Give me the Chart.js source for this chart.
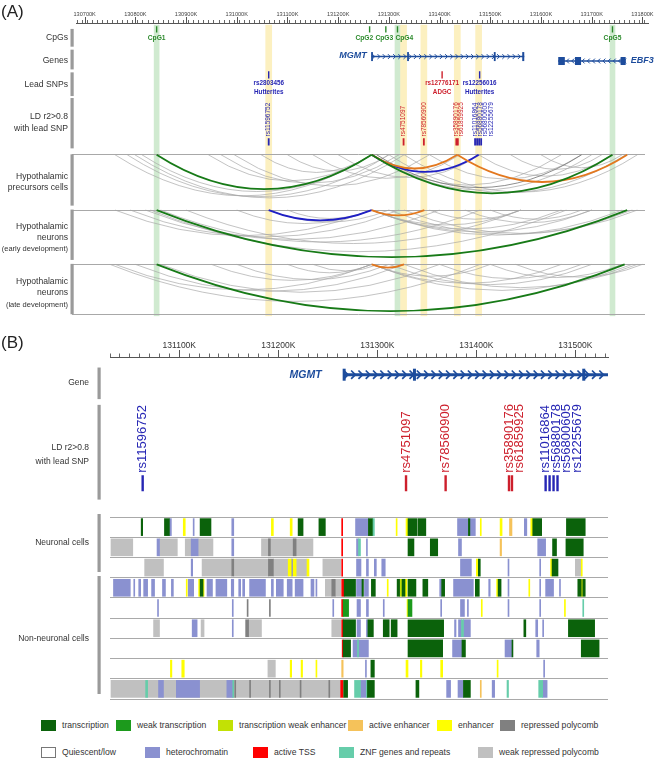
<!DOCTYPE html>
<html>
<head>
<meta charset="utf-8">
<script src="https://cdn.jsdelivr.net/npm/chart.js@4.4.0/dist/chart.umd.min.js"></script>
<style>
body { margin: 0; background: #fff; font-family: "Liberation Sans", Arial, sans-serif; }
#wrap { position: relative; width: 660px; height: 759px; overflow: hidden; }
canvas { position: absolute; left: 0; }
.lg { position: absolute; font-size: 8.6px; color: #333; white-space: nowrap; line-height: 11px; }
.lg i { display: inline-block; width: 15px; height: 11px; vertical-align: middle; margin-right: 6px; box-sizing: border-box; }
.lg span { vertical-align: middle; }
</style>
</head>
<body>
<div id="wrap">
  <canvas id="chartA" width="660" height="322" style="top:0px"></canvas>
  <canvas id="chartB1" width="660" height="180" style="top:330px"></canvas>
  <canvas id="chartB2" width="660" height="195" style="top:510px"></canvas>
  <div id="legend"></div>
</div>
<script>
Chart.defaults.font.family = '"Liberation Sans", Arial, Helvetica, sans-serif';
Chart.defaults.color = '#333';

// ---- positions are in kb on chr10 ----
const cpgNames = ['CpG1', 'CpG2', 'CpG3', 'CpG4', 'CpG5'];
const cpgPos = [130842, 131262, 131294, 131317, 131741];

const leadSnps = ['rs2803456', 'rs12776171', 'rs12256016'];
const leadPos = [131063, 131405, 131479];
const leadStudy = ['Hutterites', 'ADGC', 'Hutterites'];

const ldSnps = ['rs11596752', 'rs4751097', 'rs78560900', 'rs35890176', 'rs61859925',
                'rs11016864', 'rs56880178', 'rs56800605', 'rs12255679'];
const ldPos = [131063, 131329, 131369, 131433, 131436, 131470, 131474, 131478, 131482];
const ldStudy = ['Hutterites', 'ADGC', 'ADGC', 'ADGC', 'ADGC',
                 'Hutterites', 'Hutterites', 'Hutterites', 'Hutterites'];

const greenBands = [130842, 131317, 131741];
const yellowBands = [131063, 131329, 131369, 131435, 131477];

const mgmtSpan = [131266, 131567];
const mgmtExons = [[131265, 131268], [131336, 131339], [131507, 131510], [131563, 131567]];
const ebf3Span = [131634, 131767];
const ebf3Exons = [[131634, 131647], [131667, 131679], [131757, 131767]];

// chromatin interactions: [from, to, colour key]
const arcsPrecursors = [
  [130760, 131266, 'g'], [130784, 131300, 'g'], [130799, 131330, 'g'], [130813, 131266, 'g'],
  [130944, 131266, 'g'], [130969, 131320, 'g'], [130995, 131380, 'g'], [131048, 131266, 'g'],
  [131100, 131300, 'g'], [131150, 131440, 'g'], [131200, 131480, 'g'], [131266, 131640, 'g'],
  [131266, 131700, 'g'], [131300, 131767, 'g'], [131330, 131790, 'g'], [131380, 131680, 'g'],
  [131477, 131741, 'g'], [131540, 131720, 'g'], [131600, 131760, 'g'], [131276, 131680, 'd'],
  [130842, 131266, 'G'], [131266, 131741, 'G'], [131266, 131477, 'B'],
  [131266, 131435, 'O'], [131435, 131770, 'O']
];
const arcsEarly = [
  [130760, 131266, 'g'], [130790, 131320, 'g'], [130820, 131400, 'g'], [130850, 131480, 'g'],
  [130900, 131560, 'g'], [130830, 131650, 'g'], [131000, 131266, 'g'], [131063, 131300, 'g'],
  [131100, 131266, 'g'], [131266, 131560, 'g'], [131266, 131640, 'g'], [131266, 131700, 'g'],
  [131266, 131760, 'g'], [131300, 131780, 'g'], [131330, 131790, 'g'], [131380, 131560, 'g'],
  [131450, 131700, 'g'], [131500, 131680, 'g'],
  [130842, 131770, 'G'], [131063, 131266, 'B'], [131266, 131370, 'O']
];
const arcsLate = [
  [130750, 131480, 'g'], [130760, 131266, 'g'], [130800, 131330, 'g'], [130850, 131400, 'g'],
  [130950, 131266, 'g'], [131000, 131300, 'g'], [131100, 131266, 'g'], [131150, 131280, 'g'],
  [131266, 131500, 'g'], [131266, 131640, 'g'], [131266, 131780, 'g'], [131300, 131700, 'g'],
  [131330, 131790, 'g'], [131400, 131680, 'g'], [131500, 131760, 'g'], [131550, 131800, 'g'],
  [130842, 131765, 'G'], [131266, 131330, 'O']
];

// chromatin states: [start, end, state]
const neuronal1 = [[131061.5, 131063, 'T'], [131085, 131090, 'T'], [131090, 131092, 'H'], [131104, 131106, 'E'],
  [131114, 131115, 'H'], [131121, 131132, 'T'], [131153, 131155, 'H'], [131193, 131195, 'E'], [131212, 131214, 'E'],
  [131220, 131225, 'T'], [131241, 131247.5, 'T'], [131264, 131265, 'S'], [131278, 131291, 'H'], [131291, 131295, 'T'],
  [131295, 131297, 'Z'], [131319, 131320, 'E'], [131329, 131331, 'E'], [131331, 131340, 'T'], [131341, 131349, 'T'],
  [131381, 131392, 'H'], [131392, 131393.5, 'T'], [131393.5, 131399, 'H'], [131404, 131405, 'E'], [131424, 131426, 'E'],
  [131433.5, 131436, 'A'], [131448.5, 131451, 'H'], [131455, 131457, 'E'], [131457, 131466, 'T'], [131491, 131510, 'T']];
const neuronal2 = [[131031, 131053, 'L'], [131077.5, 131080, 'H'], [131080, 131098, 'L'], [131106, 131112, 'L'],
  [131112, 131119, 'H'], [131119, 131134, 'L'], [131153, 131155, 'H'], [131183, 131235, 'L'], [131190, 131192, 'P'],
  [131215, 131218, 'P'], [131264, 131265, 'S'], [131279, 131281, 'H'], [131281, 131283, 'Z'], [131289, 131290, 'H'],
  [131331, 131337, 'T'], [131353.5, 131361, 'T'], [131382, 131385, 'H'], [131424, 131425.5, 'A'], [131462, 131470, 'H'],
  [131477, 131481, 'T'], [131490.5, 131508, 'T']];
const neuronal3 = [[131065, 131084, 'L'], [131112, 131113.5, 'H'], [131123, 131153, 'L'], [131153, 131155, 'P'],
  [131155, 131190, 'L'], [131190, 131195, 'P'], [131195, 131210, 'L'], [131210, 131213, 'E'], [131213, 131214.5, 'H'],
  [131215, 131218, 'E'], [131218, 131229, 'L'], [131229, 131231, 'E'], [131245, 131263, 'L'], [131264, 131265, 'S'],
  [131279, 131283.5, 'H'], [131289, 131291, 'H'], [131297, 131299, 'H'], [131304.5, 131308, 'H'], [131384, 131395, 'H'],
  [131400, 131402, 'E'], [131402, 131404, 'T'], [131432, 131433, 'H'], [131464, 131465, 'H'], [131475, 131476.5, 'E'],
  [131476.5, 131482.5, 'T'], [131500, 131506, 'L'], [131506, 131507, 'E']];
const nonNeuronal1 = [[131033.5, 131050.5, 'H'], [131054, 131055, 'H'], [131059, 131061, 'H'], [131064, 131068, 'H'],
  [131072, 131075, 'H'], [131083, 131086, 'H'], [131092, 131094, 'H'], [131107, 131108, 'E'], [131109, 131114.5, 'H'],
  [131119.5, 131121, 'E'], [131121, 131124, 'T'], [131124, 131125, 'E'], [131128, 131133.5, 'H'], [131137, 131148, 'H'],
  [131152.5, 131155, 'H'], [131160, 131162, 'H'], [131164, 131166, 'H'], [131171, 131187, 'H'], [131193, 131195, 'H'],
  [131198, 131205, 'H'], [131209, 131214, 'H'], [131217, 131225, 'H'], [131233, 131236, 'H'], [131238, 131239, 'H'],
  [131247.5, 131254, 'L'], [131254, 131257.5, 'P'], [131257.5, 131263, 'L'], [131264, 131266.5, 'S'],
  [131266.5, 131278, 'T'], [131279, 131284.5, 'H'], [131284.5, 131286, 'T'], [131287, 131291, 'H'], [131294, 131298, 'T'],
  [131310, 131311, 'E'], [131320, 131322.5, 'T'], [131322.5, 131325, 'G'], [131325, 131328, 'T'], [131328, 131330, 'E'],
  [131331, 131339, 'T'], [131346, 131351, 'T'], [131363, 131365, 'H'], [131365, 131368, 'T'], [131377, 131397, 'H'],
  [131399, 131403, 'T'], [131412.5, 131414, 'H'], [131420.5, 131422, 'E'], [131422, 131425, 'T'], [131432, 131433, 'H'],
  [131453, 131454, 'E'], [131464, 131465, 'H'], [131470, 131478, 'H'], [131484, 131485, 'H'], [131502.5, 131506, 'T'],
  [131506, 131507.5, 'E'], [131507.5, 131510, 'T']];
const nonNeuronal2 = [[131078, 131079, 'H'], [131153.5, 131154.5, 'H'], [131168.5, 131169.5, 'P'], [131191, 131192, 'P'],
  [131255, 131256, 'H'], [131264, 131265.5, 'S'], [131265.5, 131271, 'W'], [131279.5, 131283, 'H'], [131289, 131291, 'H'],
  [131306, 131307, 'H'], [131330, 131331, 'E'], [131331, 131335, 'W'], [131364, 131365, 'H'], [131384, 131388, 'H'],
  [131391, 131392, 'H'], [131405, 131406, 'E'], [131432, 131433, 'H'], [131464, 131465, 'H'], [131489, 131490, 'E'],
  [131507.5, 131508.5, 'Z']];
const nonNeuronal3 = [[131074, 131080, 'L'], [131113, 131118, 'H'], [131122, 131125, 'L'], [131153.5, 131154.5, 'H'],
  [131167, 131170, 'P'], [131170, 131183, 'L'], [131254, 131263, 'L'], [131264, 131265.5, 'S'], [131265.5, 131278, 'T'],
  [131279.5, 131283, 'H'], [131289, 131290.5, 'H'], [131290.5, 131296, 'T'], [131306, 131312, 'T'], [131314, 131320, 'T'],
  [131331, 131367, 'T'], [131378, 131379.5, 'H'], [131382, 131385, 'H'], [131385, 131387, 'Z'], [131387, 131394, 'H'],
  [131448, 131450, 'T'], [131460, 131462, 'H'], [131467, 131468, 'H'], [131493, 131519.5, 'T']];
const nonNeuronal4 = [[131264.5, 131265.5, 'S'], [131265.5, 131273, 'T'], [131275.5, 131280, 'H'], [131280, 131281, 'Z'],
  [131281, 131291, 'H'], [131331, 131366, 'T'], [131376, 131385.5, 'H'], [131385.5, 131389, 'T'], [131429, 131436, 'H'],
  [131436, 131437, 'T'], [131461, 131463.5, 'H'], [131506, 131524, 'T']];
const nonNeuronal5 = [[131091, 131092.5, 'E'], [131102.5, 131105, 'E'], [131189.5, 131197, 'L'], [131212, 131213.5, 'E'],
  [131223, 131224.5, 'E'], [131238, 131239, 'E'], [131264, 131265.5, 'A'], [131288, 131289, 'H'], [131293.5, 131297, 'T'],
  [131329, 131331, 'E'], [131343.5, 131345, 'E'], [131364, 131366, 'E'], [131421, 131422, 'E'], [131468, 131469, 'H']];
const nonNeuronal6 = [[131031, 131263, 'L'], [131066, 131068, 'Z'], [131079, 131084, 'H'], [131097, 131120.5, 'H'],
  [131148, 131154, 'H'], [131154, 131155, 'Z'], [131156, 131157, 'P'], [131171, 131172, 'P'], [131191, 131192, 'P'],
  [131201, 131202, 'P'], [131222, 131223, 'P'], [131251, 131252, 'P'], [131263, 131265.5, 'S'], [131266, 131270, 'T'],
  [131277, 131283, 'Z'], [131283, 131289, 'H'], [131289, 131290, 'Z'], [131290, 131297, 'T'], [131339, 131342, 'T'],
  [131370, 131374, 'H'], [131381.5, 131387, 'H'], [131387, 131394, 'T'], [131404, 131405, 'A'], [131416, 131418.5, 'H'],
  [131431, 131432.5, 'Z'], [131463, 131467, 'Z'], [131467, 131471.5, 'H']];

const chromRows = [neuronal1, neuronal2, neuronal3, nonNeuronal1, nonNeuronal2,
                   nonNeuronal3, nonNeuronal4, nonNeuronal5, nonNeuronal6];
const rowNames = ['n1', 'n2', 'n3', 'o1', 'o2', 'o3', 'o4', 'o5', 'o6'];

const stateCodes = ['T', 'W', 'G', 'A', 'E', 'P', 'Q', 'H', 'S', 'Z', 'L'];
const stateNames = ['transcription', 'weak transcription', 'transcription weak enhancer', 'active enhancer',
  'enhancer', 'repressed polycomb', 'Quiescent/low', 'heterochromatin', 'active TSS',
  'ZNF genes and repeats', 'weak repressed polycomb'];
const stateColors = ['#0b620b', '#1c9a1c', '#c2e105', '#f5c25a', '#ffff00', '#808080',
  '#ffffff', '#8a91d0', '#ff0000', '#66cdaa', '#c0c0c0'];

// ---- drawing helpers ----
const FAM = '"Liberation Sans", Arial, sans-serif';
const studyColor = { Hutterites: '#2626b4', ADGC: '#cd1f2c' };
const arcColor = { g: 'rgba(165,165,165,0.75)', d: 'rgba(115,115,115,0.9)', G: '#177a17', O: '#e3781f', B: '#1f1fc4' };
const geneColor = '#1d4c9c';

function text(ctx, s, x, y, font, color, align) {
  ctx.font = font + ' ' + FAM;
  ctx.fillStyle = color;
  ctx.textAlign = align || 'left';
  ctx.textBaseline = 'middle';
  ctx.fillText(s, x, y);
}
function vtext(ctx, s, x, yBottom, font, color) {
  ctx.save();
  ctx.translate(x, yBottom);
  ctx.rotate(-Math.PI / 2);
  text(ctx, s, 0, 0, font, color, 'left');
  ctx.restore();
}
function greedy(xs, gap) {
  const out = [];
  xs.forEach((v, i) => out.push(i && out[i - 1] + gap > v ? out[i - 1] + gap : v));
  return out;
}
function centred(xs, gap) {
  const out = [];
  let i = 0;
  while (i < xs.length) {
    let j = i;
    while (j + 1 < xs.length && xs[j + 1] - xs[j] < gap) j++;
    const n = j - i + 1;
    const mid = xs.slice(i, j + 1).reduce((a, b) => a + b, 0) / n;
    for (let k = 0; k < n; k++) out.push(mid + (k - (n - 1) / 2) * gap);
    i = j + 1;
  }
  return out;
}
function grayBar(ctx, x, y0, y1) {
  ctx.fillStyle = '#9a9a9a';
  ctx.fillRect(x, y0, 3.2, y1 - y0);
}
function ticksEvery(a, b, step) {
  const t = [];
  for (let v = a; v <= b; v += step) t.push({ value: v });
  return t;
}
function majorTicks(ctx, x, yAxis, len, from, to) {
  ctx.strokeStyle = '#555';
  ctx.lineWidth = 1;
  for (let v = from; v <= to; v += 100) {
    const px = Math.round(x.getPixelForValue(v)) + 0.5;
    ctx.beginPath(); ctx.moveTo(px, yAxis); ctx.lineTo(px, yAxis - len); ctx.stroke();
  }
}
function drawGene(ctx, x, area, yPix, span, exons, dir, o) {
  const a = Math.max(x.getPixelForValue(span[0]), area.left);
  const b = Math.min(x.getPixelForValue(span[1]), area.right);
  ctx.strokeStyle = geneColor;
  ctx.fillStyle = geneColor;
  ctx.lineWidth = o.lw;
  ctx.beginPath(); ctx.moveTo(a, yPix); ctx.lineTo(b, yPix); ctx.stroke();
  ctx.lineWidth = o.clw;
  for (let px = a + o.step * 0.6; px < b - 1; px += o.step) {
    ctx.beginPath();
    ctx.moveTo(px - dir * o.ch, yPix - o.ch);
    ctx.lineTo(px, yPix);
    ctx.lineTo(px - dir * o.ch, yPix + o.ch);
    ctx.stroke();
  }
  exons.forEach(e => {
    const x1 = Math.max(x.getPixelForValue(e[0]), area.left);
    const x2 = Math.min(x.getPixelForValue(e[1]), area.right);
    if (x2 > x1 - o.ew) ctx.fillRect(x1, yPix - o.eh / 2, Math.max(x2 - x1, o.ew), o.eh);
  });
}
function drawArcs(ctx, x, top, arcs, k) {
  ['g', 'd', 'B', 'O', 'G'].forEach(c => {
    arcs.filter(a => a[2] === c).forEach(a => {
      const x1 = x.getPixelForValue(a[0]);
      const x2 = x.getPixelForValue(a[1]);
      const depth = Math.min(Math.abs(x2 - x1) * k, 48);
      ctx.beginPath();
      ctx.moveTo(x1, top);
      ctx.quadraticCurveTo((x1 + x2) / 2, top + 2 * depth, x2, top);
      ctx.strokeStyle = arcColor[c];
      ctx.lineWidth = (c === 'g' || c === 'd') ? 0.9 : 1.8;
      ctx.stroke();
    });
  });
}

// ---- panel A ----
const panelAPlugin = {
  id: 'panelA',
  afterDatasetsDraw(chart) {
    const { ctx, scales: { x, y } } = chart;
    ctx.save();
    ctx.strokeStyle = '#a8a8a8';
    ctx.lineWidth = 1;
    [156, 212, 267, 318].forEach(v => {
      const py = Math.round(y.getPixelForValue(v)) + 0.5;
      ctx.beginPath(); ctx.moveTo(72, py); ctx.lineTo(645, py); ctx.stroke();
    });
    drawArcs(ctx, x, y.getPixelForValue(156.5), arcsPrecursors, 0.16);
    drawArcs(ctx, x, y.getPixelForValue(212.5), arcsEarly, 0.1);
    drawArcs(ctx, x, y.getPixelForValue(267.5), arcsLate, 0.1);

    drawGene(ctx, x, chart.chartArea, y.getPixelForValue(57), mgmtSpan, mgmtExons, 1,
      { lw: 1.6, clw: 1, ch: 2.4, step: 5.2, eh: 9, ew: 1.8 });
    drawGene(ctx, x, chart.chartArea, y.getPixelForValue(61.5), ebf3Span, ebf3Exons, -1,
      { lw: 1.6, clw: 1, ch: 2.4, step: 5.2, eh: 8, ew: 1.8 });
    text(ctx, 'MGMT', x.getPixelForValue(mgmtSpan[0]) - 5, y.getPixelForValue(56), 'italic bold 9px', geneColor, 'right');
    text(ctx, 'EBF3', x.getPixelForValue(ebf3Span[1]) + 5, y.getPixelForValue(61.5), 'italic bold 9px', geneColor, 'left');

    const cx = centred(cpgPos.map(p => x.getPixelForValue(p)), 20);
    cpgNames.forEach((n, i) => text(ctx, n, cx[i], y.getPixelForValue(38.5), 'bold 6.7px', '#2c8a2c', 'center'));

    leadSnps.forEach((n, i) => {
      const px = x.getPixelForValue(leadPos[i]);
      text(ctx, n, px, y.getPixelForValue(84.5), 'bold 6.3px', studyColor[leadStudy[i]], 'center');
      text(ctx, leadStudy[i], px, y.getPixelForValue(93), 'bold 6.3px', studyColor[leadStudy[i]], 'center');
    });

    const lx = greedy(ldPos.map(p => x.getPixelForValue(p)), 5.3);
    ldSnps.forEach((n, i) => vtext(ctx, n, lx[i], y.getPixelForValue(138), '6.5px', studyColor[ldStudy[i]]));
    ctx.restore();
  },
  afterDraw(chart) {
    const { ctx, scales: { x, y } } = chart;
    ctx.save();
    majorTicks(ctx, x, y.getPixelForValue(23), 6, 130700, 131800);
    text(ctx, '(A)', 1, 12, '17px', '#222', 'left');
    const rows = [
      [['CpGs'], [38], 29, 47],
      [['Genes'], [61], 50, 70],
      [['Lead SNPs'], [85], 73, 97],
      [['LD r2>0.8', 'with lead SNP'], [118, 130], 99, 150],
      [['Hypothalamic', 'precursors cells'], [179, 190], 156, 208],
      [['Hypothalamic', 'neurons', '(early development)'], [229, 240, 251.5], 212, 263],
      [['Hypothalamic', 'neurons', '(late development)'], [285, 296.5, 309], 267, 318]
    ];
    rows.forEach(r => {
      r[0].forEach((s, i) => {
        const small = s.startsWith('(');
        text(ctx, s, 68, y.getPixelForValue(r[1][i]), small ? '7.5px' : '8.6px', '#333', 'right');
      });
      grayBar(ctx, 70.5, y.getPixelForValue(r[2]), y.getPixelForValue(r[3]));
    });
    ctx.restore();
  }
};

new Chart(document.getElementById('chartA'), {
  type: 'scatter',
  data: {
    datasets: [
      { type: 'bar', data: greenBands.map(p => ({ x: p, y: [25, 320] })), backgroundColor: 'rgba(150,208,150,0.45)',
        barThickness: 5, grouped: false, borderWidth: 0, order: 10 },
      { type: 'bar', data: yellowBands.map(p => ({ x: p, y: [25, 320] })), backgroundColor: 'rgba(250,226,130,0.5)',
        barThickness: 6, grouped: false, borderWidth: 0, order: 9 },
      { data: cpgPos.map(p => ({ x: p, y: 29.5 })), pointStyle: 'line', pointRotation: 90, pointRadius: 3.2,
        pointBorderColor: '#2c8a2c', pointBorderWidth: 1.4 },
      { data: leadPos.map(p => ({ x: p, y: 75.5 })), pointStyle: 'line', pointRotation: 90, pointRadius: 3.6,
        pointBorderColor: leadStudy.map(s => studyColor[s]), pointBorderWidth: 1.4 },
      { data: ldPos.map(p => ({ x: p, y: 143.5 })), pointStyle: 'line', pointRotation: 90, pointRadius: 3.6,
        pointBorderColor: ldStudy.map(s => studyColor[s]), pointBorderWidth: 1.8 }
    ]
  },
  options: {
    responsive: false,
    animation: false,
    events: [],
    layout: { padding: { left: 76, right: 12, top: 0, bottom: 2 } },
    plugins: { legend: { display: false }, tooltip: { enabled: false } },
    scales: {
      x: {
        type: 'linear', position: 'top', min: 130688, max: 131806,
        afterBuildTicks: s => { s.ticks = ticksEvery(130690, 131800, 10); },
        afterFit: s => { s.height = 23; },
        ticks: { autoSkip: false, maxRotation: 0, padding: 2, font: { size: 5.6 }, color: '#444',
                 callback: v => (v % 100 === 0 ? v + 'K' : '') },
        grid: { drawOnChartArea: false, tickLength: 3, tickColor: '#666' },
        border: { color: '#555' }
      },
      y: { type: 'linear', display: false, min: 23, max: 320, reverse: true }
    }
  },
  plugins: [panelAPlugin]
});

// ---- panel B, top: axis, gene and SNPs ----
const panelBPlugin = {
  id: 'panelB',
  afterDraw(chart) {
    const { ctx, scales: { x, y }, chartArea } = chart;
    ctx.save();
    majorTicks(ctx, x, y.getPixelForValue(357), 7, 131100, 131500);
    text(ctx, '(B)', 1, y.getPixelForValue(343), '17px', '#222', 'left');
    text(ctx, 'Gene', 89, y.getPixelForValue(384), '8.5px', '#333', 'right');
    text(ctx, 'LD r2>0.8', 89, y.getPixelForValue(451.5), '8.5px', '#333', 'right');
    text(ctx, 'with lead SNP', 89, y.getPixelForValue(466), '8.5px', '#333', 'right');
    grayBar(ctx, 97.5, y.getPixelForValue(368), y.getPixelForValue(401));
    grayBar(ctx, 97.5, y.getPixelForValue(407), y.getPixelForValue(506));

    drawGene(ctx, x, chartArea, y.getPixelForValue(375.5), mgmtSpan, mgmtExons, 1,
      { lw: 3, clw: 1.7, ch: 4.2, step: 7.3, eh: 12, ew: 3 });
    text(ctx, 'MGMT', x.getPixelForValue(mgmtSpan[0]) - 22, y.getPixelForValue(376), 'italic bold 10.5px', geneColor, 'right');

    const lx = greedy(ldPos.map(p => x.getPixelForValue(p)), 10.5);
    ldSnps.forEach((n, i) => vtext(ctx, n, lx[i], y.getPixelForValue(478), '13px', studyColor[ldStudy[i]]));
    ctx.restore();
  }
};

new Chart(document.getElementById('chartB1'), {
  type: 'scatter',
  data: {
    datasets: [
      { data: ldPos.map(p => ({ x: p, y: 489 })), pointStyle: 'line', pointRotation: 90, pointRadius: 8,
        pointBorderColor: ldStudy.map(s => studyColor[s]), pointBorderWidth: 2.4 }
    ]
  },
  options: {
    responsive: false,
    animation: false,
    events: [],
    layout: { padding: { left: 110, right: 52, top: 0, bottom: 4 } },
    plugins: { legend: { display: false }, tooltip: { enabled: false } },
    scales: {
      x: {
        type: 'linear', position: 'top', min: 131030, max: 131533,
        afterBuildTicks: s => { s.ticks = ticksEvery(131030, 131530, 10); },
        afterFit: s => { s.height = 27; },
        ticks: { autoSkip: false, maxRotation: 0, padding: 3, font: { size: 8.5 }, color: '#333',
                 callback: v => (v % 100 === 0 ? v + 'K' : '') },
        grid: { drawOnChartArea: false, tickLength: 3.5, tickColor: '#666' },
        border: { color: '#555' }
      },
      y: { type: 'linear', display: false, min: 357, max: 506, reverse: true }
    }
  },
  plugins: [panelBPlugin]
});

// ---- panel B, bottom: chromatin states ----
const chromLabelPlugin = {
  id: 'chromLabels',
  afterDraw(chart) {
    const ctx = chart.ctx;
    const oy = chart.canvas.offsetTop;
    ctx.save();
    text(ctx, 'Neuronal cells', 89, 543 - oy, '8.5px', '#333', 'right');
    text(ctx, 'Non-neuronal cells', 89, 639 - oy, '8.5px', '#333', 'right');
    grayBar(ctx, 97.5, 514 - oy, 572 - oy);
    grayBar(ctx, 97.5, 576 - oy, 694 - oy);
    ctx.restore();
  }
};

const chromDatasets = stateCodes.map((code, si) => ({
  label: stateNames[si],
  data: chromRows.flatMap((segs, ri) => segs.filter(s => s[2] === code)
    .map(s => ({ x: [s[0], s[1]], y: rowNames[ri] }))),
  backgroundColor: stateColors[si],
  order: code === 'L' ? 3 : (code === 'H' ? 2 : 0)
}));

new Chart(document.getElementById('chartB2'), {
  type: 'bar',
  data: { labels: rowNames, datasets: chromDatasets },
  options: {
    indexAxis: 'y',
    responsive: false,
    animation: false,
    events: [],
    datasets: { bar: { barThickness: 17, grouped: false, borderWidth: 0 } },
    layout: { padding: { left: 110, right: 52, top: 7, bottom: 6 } },
    plugins: { legend: { display: false }, tooltip: { enabled: false } },
    scales: {
      x: { type: 'linear', display: false, min: 131030, max: 131533 },
      y: {
        type: 'category', offset: true,
        afterFit: s => { s.width = 0; },
        ticks: { display: false },
        border: { display: false },
        grid: { offset: true, color: '#a9a9a9', lineWidth: 1, drawTicks: false }
      }
    }
  },
  plugins: [chromLabelPlugin]
});

// ---- legend ----
const legendRows = [['T', 'W', 'G', 'A', 'E', 'P'], ['Q', 'H', 'S', 'Z', 'L']];
const legendLeft = [[41, 116, 218, 348, 437, 500], [41, 145, 253, 339, 478]];
const legendTop = [719.5, 746.5];
const legendEl = document.getElementById('legend');
legendRows.forEach((row, r) => row.forEach((code, i) => {
  const si = stateCodes.indexOf(code);
  const d = document.createElement('div');
  d.className = 'lg';
  d.style.left = legendLeft[r][i] + 'px';
  d.style.top = legendTop[r] + 'px';
  const border = code === 'Q' ? 'border:1px solid #777;' : '';
  d.innerHTML = '<i style="background:' + stateColors[si] + ';' + border + '"></i><span>' + stateNames[si] + '</span>';
  legendEl.appendChild(d);
}));
</script>
</body>
</html>
